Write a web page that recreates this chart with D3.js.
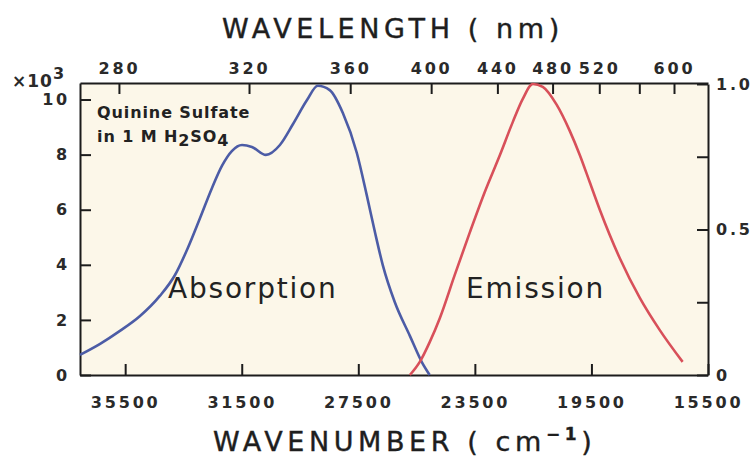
<!DOCTYPE html>
<html>
<head>
<meta charset="utf-8">
<script src="https://cdn.jsdelivr.net/npm/d3@7"></script>
<style>
  body { margin: 0; background: #fff; }
  svg { display: block; font-family: 'DejaVu Sans', sans-serif; }
  .axis path, .axis line { stroke: #1c1c1c; stroke-width: 2; }
  .axis text { font-family: 'DejaVu Sans', sans-serif; font-size: 16px; font-weight: bold; fill: #2a2a2a; letter-spacing: 2.8px; }
  .title { font-size: 27px; fill: #1e1e1e; letter-spacing: 4.6px; stroke: #1e1e1e; stroke-width: 0.4px; }
  .label { font-size: 28px; fill: #222; letter-spacing: 1.8px; }
  .note { font-size: 16px; font-weight: bold; fill: #222; letter-spacing: 0.9px; }
</style>
</head>
<body>
<div id="chart"></div>
<script>
// absorption (molar absorptivity, x10^3) vs wavenumber (cm-1)
const absWavenumber = [37050, 36360, 35680, 34990, 34310, 33790, 33350, 32930, 32520, 32180, 31840, 31490, 31150, 30670, 30190, 29740, 29260, 28890, 28480, 28030, 27550, 27210, 26930, 26660, 26250, 25730, 25320, 25050]
const absValue = [0.73, 1.13, 1.6, 2.14, 2.87, 3.63, 4.61, 5.7, 6.79, 7.59, 8.13, 8.35, 8.28, 7.99, 8.35, 9.11, 9.98, 10.5, 10.34, 9.51, 8.06, 6.53, 5.19, 3.99, 2.65, 1.42, 0.47, 0]

// emission (normalized) vs wavenumber
const emWavenumber = [25730, 25390, 25050, 24700, 24190, 23670, 23160, 22640, 22200, 21860, 21510, 21170, 20690, 20240, 19900, 19560, 19210, 18530, 17840, 17160, 16370]
const emValue = [0, 0.045, 0.113, 0.196, 0.344, 0.491, 0.629, 0.756, 0.869, 0.948, 1.0, 0.99, 0.928, 0.838, 0.756, 0.663, 0.567, 0.402, 0.265, 0.155, 0.045]

const wavenumberTicks = [35500, 31500, 27500, 23500, 19500, 15500]
const wavelengthTicks = [280, 320, 360, 400, 440, 480, 520, 560, 600]
const wavelengthLabels = ['280', '320', '360', '400', '440', '480', '520', '', '600']
const absTicks = [0, 2, 4, 6, 8, 10]
const emTicks = [0, 0.25, 0.5, 0.75, 1]
const emLabels = ['0', '', '0.5', '', '1.0']

const width = 752
const height = 461
const margin = { top: 83, right: 44, bottom: 86, left: 80 }

const svg = d3.select('#chart').append('svg').attr('width', width).attr('height', height)

const x = d3.scaleLinear().domain([37050, 15500]).range([margin.left, width - margin.right])
const yAbs = d3.scaleLinear().domain([0, 10.6]).range([height - margin.bottom, margin.top])
const yEm = d3.scaleLinear().domain([0, 1]).range([height - margin.bottom, margin.top + 1])

svg.append('rect')
  .attr('x', margin.left).attr('y', margin.top)
  .attr('width', width - margin.left - margin.right)
  .attr('height', height - margin.top - margin.bottom)
  .attr('fill', '#fcf7e9')

const tick = -11

svg.append('g').attr('class', 'axis')
  .attr('transform', `translate(0,${height - margin.bottom})`)
  .call(d3.axisBottom(x).tickValues(wavenumberTicks).tickFormat(d3.format('d'))
    .tickSizeInner(tick).tickSizeOuter(0).tickPadding(22))

svg.append('g').attr('class', 'axis')
  .attr('transform', `translate(0,${margin.top})`)
  .call(d3.axisTop(x).tickValues(wavelengthTicks.map((nm) => 1e7 / nm))
    .tickFormat((d, i) => wavelengthLabels[i])
    .tickSizeInner(tick).tickSizeOuter(0).tickPadding(9))

svg.append('g').attr('class', 'axis')
  .attr('transform', `translate(${margin.left},0)`)
  .call(d3.axisLeft(yAbs).tickValues(absTicks).tickSizeInner(tick).tickSizeOuter(0).tickPadding(10))

svg.append('g').attr('class', 'axis')
  .attr('transform', `translate(${width - margin.right},0)`)
  .call(d3.axisRight(yEm).tickValues(emTicks).tickFormat((d, i) => emLabels[i])
    .tickSizeInner(tick).tickSizeOuter(0).tickPadding(8))

// x10^3 multiplier
const mult = svg.append('text').attr('x', 12).attr('y', 87)
  .attr('font-size', 17).attr('font-weight', 'bold').attr('fill', '#2a2a2a').attr('letter-spacing', 1)
mult.append('tspan').text('×10')
mult.append('tspan').attr('dy', -8).attr('font-size', 16).text('3')

const absLine = d3.line()
  .x((d, i) => x(absWavenumber[i]))
  .y((d) => yAbs(d))
  .curve(d3.curveMonotoneX)

const emLine = d3.line()
  .x((d, i) => x(emWavenumber[i]))
  .y((d) => yEm(d))
  .curve(d3.curveMonotoneX)

svg.append('path').datum(absValue).attr('d', absLine)
  .attr('fill', 'none').attr('stroke', '#4c5ca6').attr('stroke-width', 2.6)

svg.append('path').datum(emValue).attr('d', emLine)
  .attr('fill', 'none').attr('stroke', '#d8505a').attr('stroke-width', 2.6)

svg.append('text').attr('class', 'label').attr('x', 168).attr('y', 298).text('Absorption')
svg.append('text').attr('class', 'label').attr('x', 466).attr('y', 298).text('Emission')

svg.append('text').attr('class', 'note').attr('x', 97).attr('y', 118).text('Quinine Sulfate')
const note2 = svg.append('text').attr('class', 'note').attr('x', 97).attr('y', 142)
note2.append('tspan').text('in 1 M H')
note2.append('tspan').attr('dy', 4).text('2')
note2.append('tspan').attr('dy', -4).text('SO')
note2.append('tspan').attr('dy', 4).text('4')

svg.append('text').attr('class', 'title').attr('x', 222).attr('y', 38).text('WAVELENGTH ( nm)')

const bottomTitle = svg.append('text').attr('class', 'title').attr('x', 213).attr('y', 451)
bottomTitle.append('tspan').text('WAVENUMBER ( cm')
bottomTitle.append('tspan').attr('dy', -11).attr('font-size', 17).attr('font-weight', 'bold').text('−1')
bottomTitle.append('tspan').attr('dy', 11).text(')')
</script>
</body>
</html>
